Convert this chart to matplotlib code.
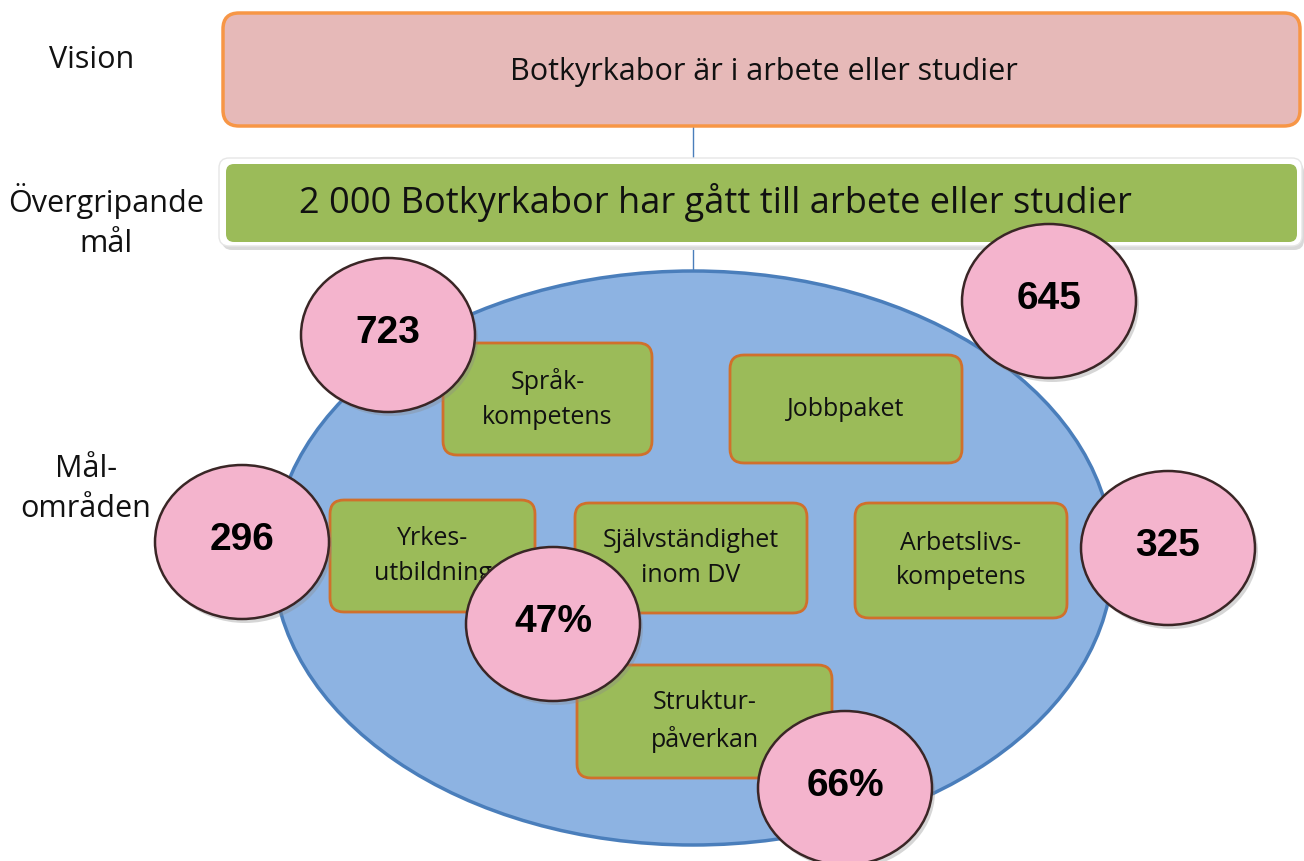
import matplotlib
matplotlib.use('Agg')
import matplotlib.pyplot as plt
from matplotlib.patches import FancyBboxPatch, Ellipse

# ── Content ───────────────────────────────────────────────────────────────────
vision_text = 'Botkyrkabor är i arbete eller studier'
goal_text = '2 000 Botkyrkabor har gått till arbete eller studier'
row_labels = ['Vision', 'Övergripande\nmål', 'Mål-\nområden']

areas = ['Språk-\nkompetens', 'Jobbpaket', 'Yrkes-\nutbildning',
         'Självständighet\ninom DV', 'Arbetslivs-\nkompetens', 'Struktur-\npåverkan']
results = ['723', '645', '296', '47%', '325', '66%']

# ── Layout (pixel coords, y down) ─────────────────────────────────────────────
label_pos = [(92, 60), (106, 221), (86, 489)]
area_boxes = [(443, 343, 652, 455), (730, 355, 962, 463), (330, 500, 535, 612),
              (575, 503, 807, 613), (855, 503, 1067, 618), (577, 665, 832, 778)]
result_pos = [(388, 335), (1049, 301), (242, 542), (553, 624), (1168, 548), (845, 788)]

PINK = '#e6b9b8'
ORANGE = '#f79646'
GREEN = '#9bbb59'
BOX_EDGE = '#d0702c'
BLUE = '#8db3e2'
BLUE_EDGE = '#4a7ebb'
ROSE = '#f4b4cd'

W, H = 1304, 861
fig = plt.figure(figsize=(W / 100, H / 100), dpi=100)
ax = fig.add_axes([0, 0, 1, 1])
ax.set_xlim(0, W)
ax.set_ylim(H, 0)
ax.axis('off')

txt = dict(family='Open Sans', color='#111111', ha='center', va='center')

def rbox(x0, y0, x1, y1, r, **kw):
    p = FancyBboxPatch((x0 + r, y0 + r), x1 - x0 - 2 * r, y1 - y0 - 2 * r,
                       boxstyle=f'round,pad={r}', **kw)
    ax.add_patch(p)
    return p

# connector line
ax.plot([693, 693], [126, 300], color=BLUE_EDGE, lw=1, zorder=1)

# vision box
rbox(223, 13, 1300, 126, 16, facecolor=PINK, edgecolor=ORANGE, lw=2.5, zorder=2)
ax.text(764, 72, vision_text, fontsize=22, zorder=5, **txt)

# overall goal box (white frame with soft shadow)
rbox(222, 162, 1304, 250, 10, facecolor='#d9d9d9', edgecolor='none', zorder=2)
rbox(219, 158, 1302, 246, 10, facecolor='white', edgecolor='#e6e6e6', lw=1, zorder=2)
rbox(226, 164, 1297, 242, 8, facecolor=GREEN, edgecolor='none', zorder=3)
ax.text(715, 202, goal_text, fontsize=26, zorder=5, **txt)

# row labels
for lab, (x, y) in zip(row_labels, label_pos):
    ax.text(x, y, lab, fontsize=22, linespacing=1.45, zorder=5, **txt)

# target-area ellipse
ax.add_patch(Ellipse((693, 558), 840, 574, facecolor=BLUE, edgecolor=BLUE_EDGE,
                     lw=2.5, zorder=2))

for lab, (x0, y0, x1, y1) in zip(areas, area_boxes):
    rbox(x0, y0, x1, y1, 14, facecolor=GREEN, edgecolor=BOX_EDGE, lw=2, zorder=3)
    ax.text((x0 + x1) / 2, (y0 + y1) / 2, lab, fontsize=18,
            linespacing=1.5, zorder=4, **txt)

for val, (x, y) in zip(results, result_pos):
    ax.add_patch(Ellipse((x + 3, y + 4), 174, 154, facecolor='#8a8a8a',
                         edgecolor='none', alpha=0.35, zorder=6))
    ax.add_patch(Ellipse((x, y), 174, 154, facecolor=ROSE, edgecolor='#3a2626',
                         lw=1.8, zorder=7))
    ax.text(x, y - 2, val, fontsize=28, fontweight='bold', family='Liberation Sans',
            color='black', ha='center', va='center', zorder=8)

fig.savefig('out.png', dpi=100, facecolor='white')
